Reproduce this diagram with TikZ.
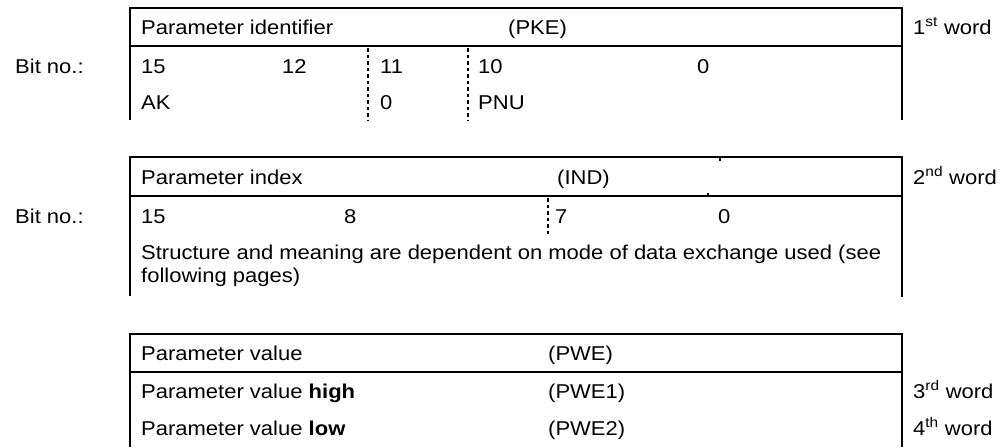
\documentclass[tikz,border=0pt]{standalone}
\usepackage{fontspec}
\setmainfont[FakeStretch=1.1]{Liberation Sans}
\begin{document}
\begin{tikzpicture}[x=1pt,y=-1pt,
  frame/.style={line width=2pt},
  bitsep/.style={line width=2pt, dash pattern=on 3.5pt off 3pt},
  txt/.style={anchor=base west, inner sep=0pt, font=\fontsize{20}{24}\selectfont},
  wordlbl/.style={txt}]
\useasboundingbox (0,0) rectangle (1001,447);

% ---- first word: parameter identifier (PKE)
\draw[frame] (130,120) -- (130,7.5) -- (902,7.5) -- (902,120);
\draw[frame] (130,46) -- (902,46);
\draw[bitsep] (368,48) -- (368,120);
\draw[bitsep] (468,48) -- (468,120);
\node[txt] (pketitle) at (141,34) {Parameter identifier};
\node[txt] (pkeabbr) at (508,34) {(PKE)};
\node[wordlbl] (w1) at (913,34) {1\textsuperscript{st} word};
\node[txt] (bitlbl1) at (15,73) {Bit no.:};
\node[txt] (b15a) at (141,73) {15};
\node[txt] (b12) at (282,73) {12};
\node[txt] (b11) at (380,73) {11};
\node[txt] (b10) at (478,73) {10};
\node[txt] (b0a) at (697,73) {0};
\node[txt] (ak) at (141,109) {AK};
\node[txt] (zero) at (380,109) {0};
\node[txt] (pnu) at (478,109) {PNU};

% ---- second word: parameter index (IND)
\draw[frame] (130,296) -- (130,157) -- (902,157) -- (902,297);
\draw[frame] (130,196) -- (902,196);
\draw[bitsep] (548,198) -- (548,235);
\draw[line width=1.6pt] (720,157) -- (720,160.5);
\draw[line width=1.6pt] (708,196) -- (708,192.5);
\node[txt] (indtitle) at (141,184) {Parameter index};
\node[txt] (indabbr) at (557,184) {(IND)};
\node[wordlbl] (w2) at (913,184) {2\textsuperscript{nd} word};
\node[txt] (bitlbl2) at (15,223) {Bit no.:};
\node[txt] (b15b) at (141,223) {15};
\node[txt] (b8) at (344,223) {8};
\node[txt] (b7) at (555,223) {7};
\node[txt] (b0b) at (718,223) {0};
\node[txt] (indnote1) at (141,259) {Structure and meaning are dependent on mode of data exchange used (see};
\node[txt] (indnote2) at (141,282) {following pages)};

% ---- third and fourth words: parameter value (PWE)
\draw[frame] (130,447) -- (130,334) -- (902,334) -- (902,447);
\draw[frame] (130,372) -- (902,372);
\node[txt] (pwetitle) at (141,360) {Parameter value};
\node[txt] (pweabbr) at (548,360) {(PWE)};
\node[txt] (pwehigh) at (141,398) {Parameter value \textbf{high}};
\node[txt] (pwe1) at (548,398) {(PWE1)};
\node[wordlbl] (w3) at (913,398) {3\textsuperscript{rd} word};
\node[txt] (pwelow) at (141,435) {Parameter value \textbf{low}};
\node[txt] (pwe2) at (548,435) {(PWE2)};
\node[wordlbl] (w4) at (913,435) {4\textsuperscript{th} word};
\end{tikzpicture}
\end{document}
